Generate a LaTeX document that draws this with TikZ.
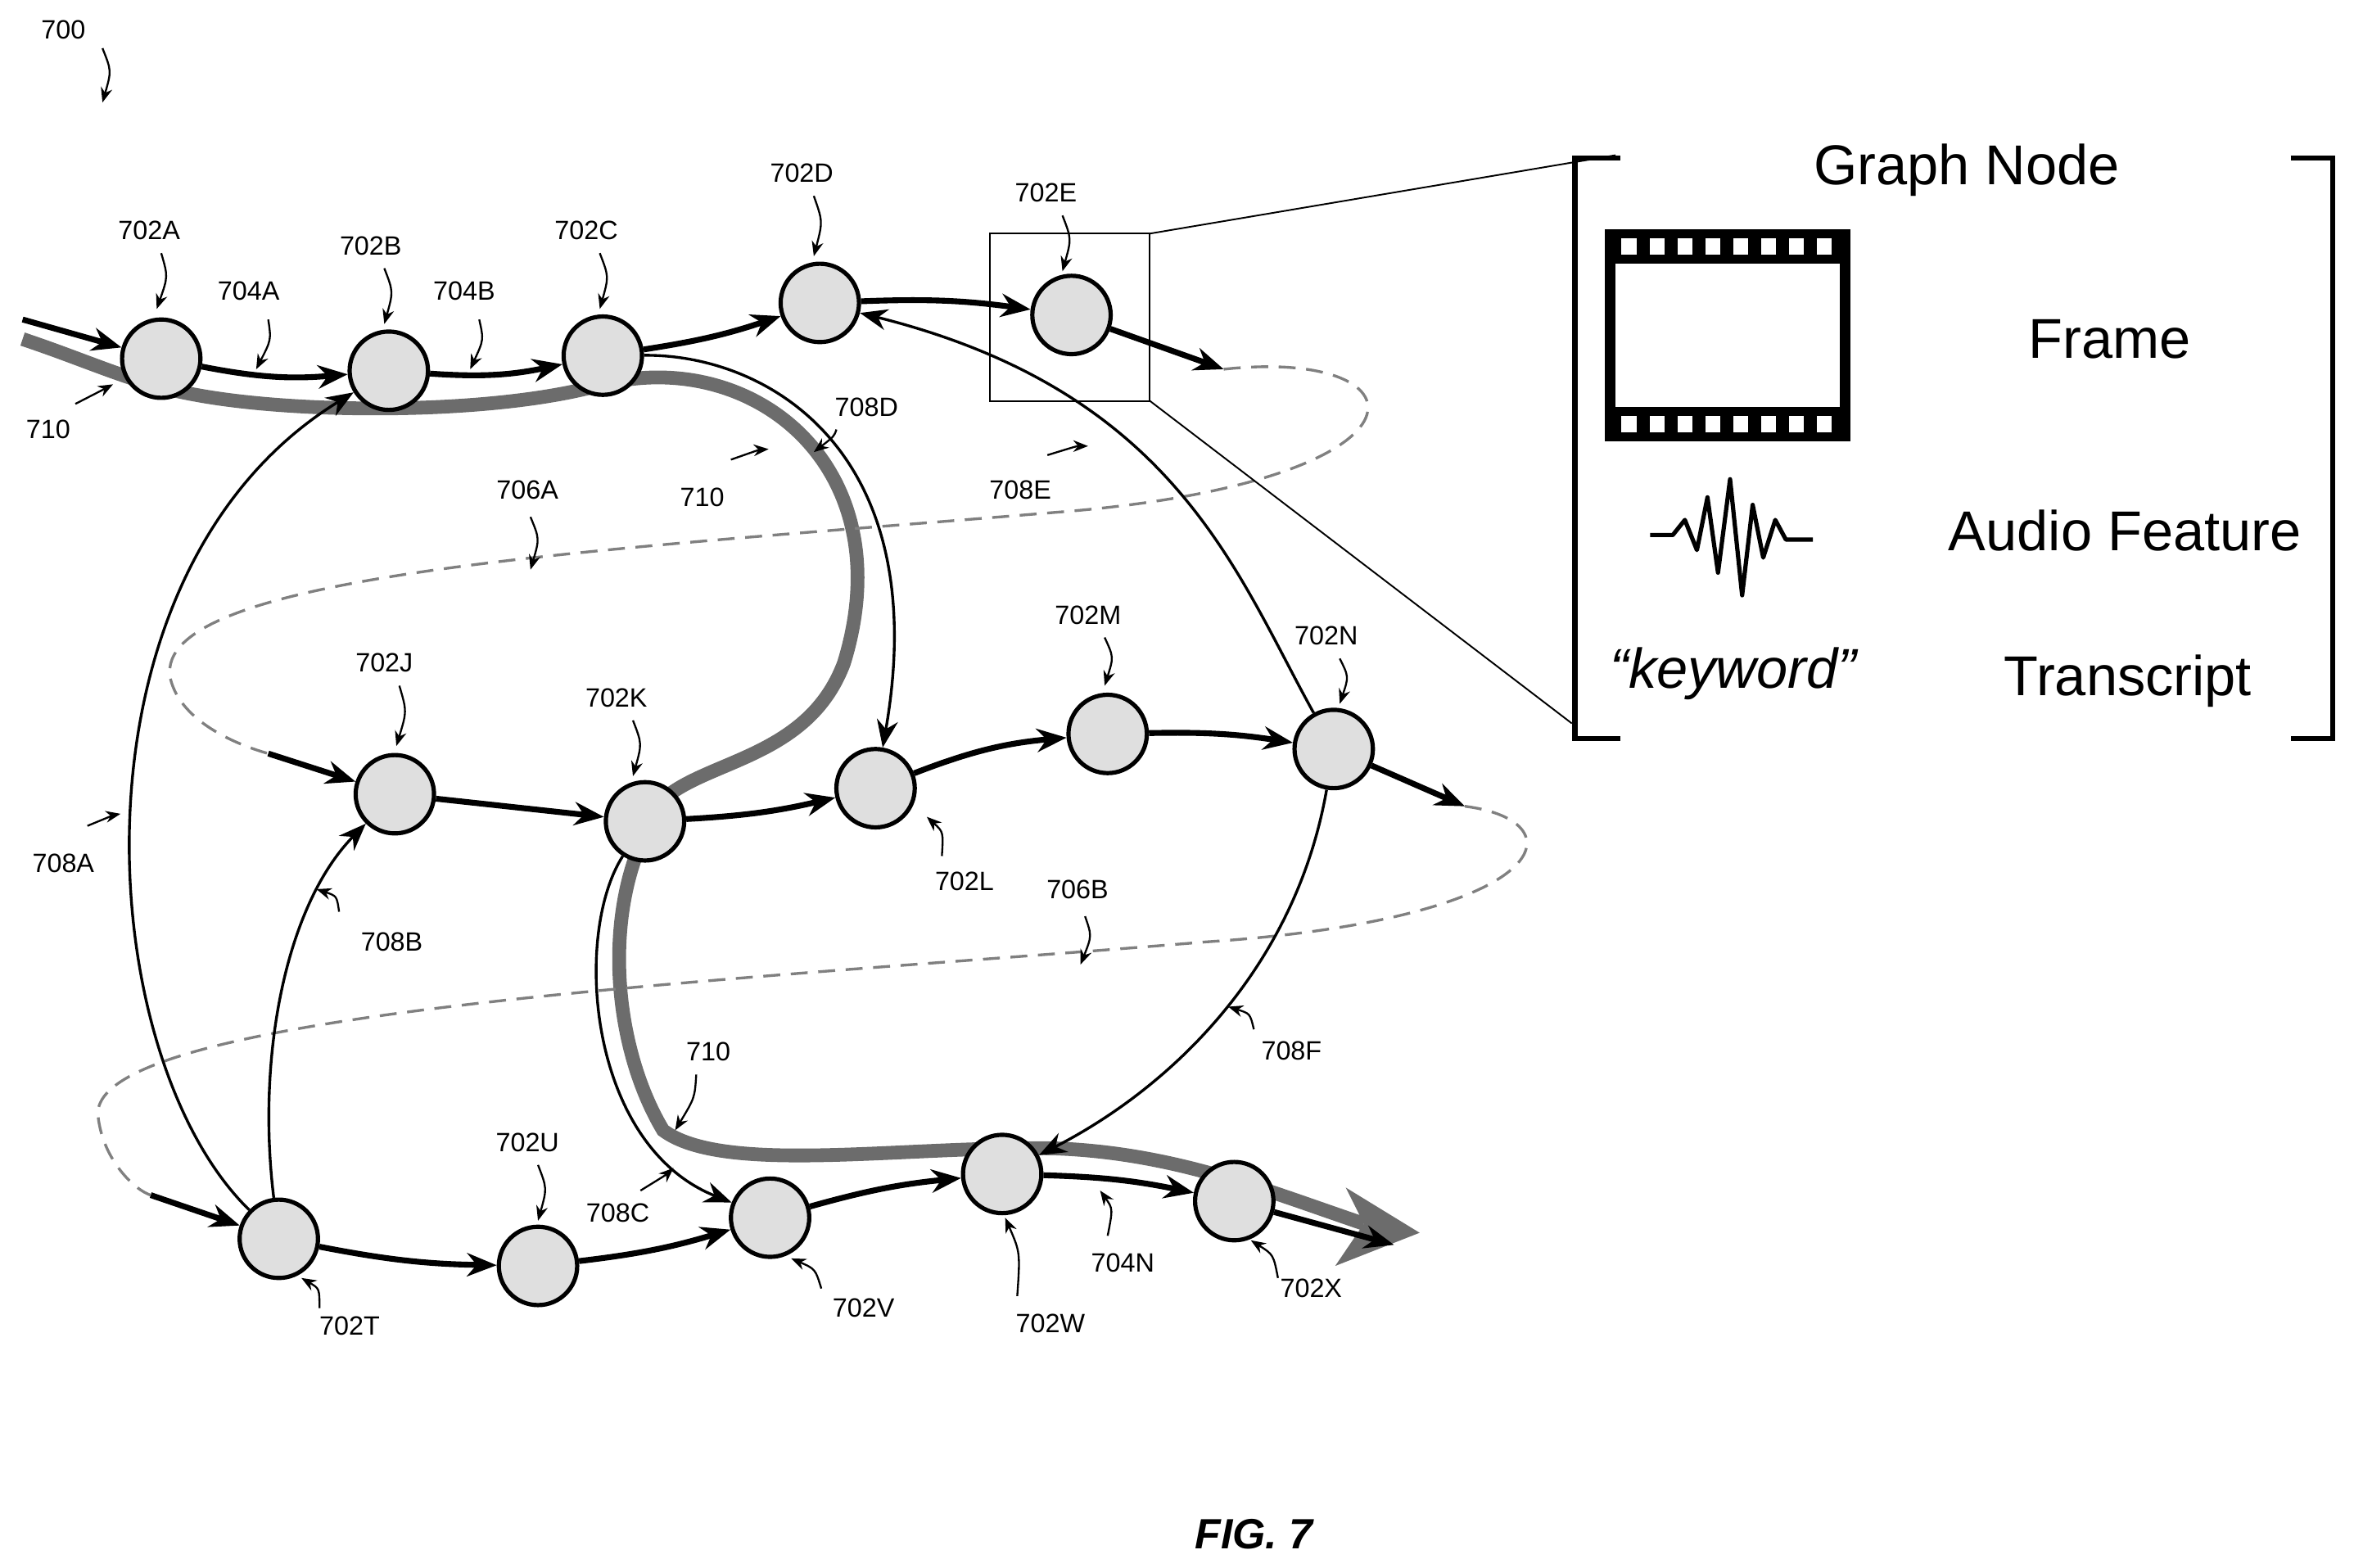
\documentclass[tikz,border=0pt]{standalone}
\usepackage{fontspec}
\setmainfont{Liberation Sans}
\usetikzlibrary{arrows.meta,calc}
\begin{document}
\begin{tikzpicture}[x=0.05cm,y=-0.05cm,
 gn/.style={circle,draw=black,line width=4pt,fill=gray!25,minimum size=52*0.05cm,inner sep=0},
 ed/.style={line width=5.5pt,-{Stealth[length=28pt,width=22pt]}},
 th/.style={line width=2.6pt,-{Stealth[length=26pt,width=20pt]}},
 dsh/.style={gray,line width=2.6pt,dash pattern=on 16pt off 10pt},
 pth/.style={line width=13pt,draw=gray!85!black},
 lb/.style={font=\fontsize{25}{28}\selectfont},
 la/.style={line width=1.8pt,-{Stealth[length=14pt,width=11pt]}},
 big/.style={font=\fontsize{53}{60}\selectfont}]
\useasboundingbox (0,0) rectangle (1568,1040);
% gray path 710
\draw[pth] (15,225) .. controls (60,240) and (90,255) .. (130,262) .. controls (200,275) and (330,275) .. (400,255)
 .. controls (500,230) and (600,310) .. (560,440) .. controls (530,520) and (430,500) .. (425,560)
 .. controls (400,620) and (410,700) .. (440,750) .. controls (480,780) and (600,760) .. (700,762)
 .. controls (780,765) and (840,790) .. (905,812);
\fill[gray!85!black] (942,818) -- (893,788) -- (905,812) -- (886,840) -- cycle;
% nodes
\foreach \n/\x/\y in {A/107/238,B/258/246,C/400/236,D/544/201,E/711/209,J/262/527,K/428/545,L/581/523,M/735/487,N/885/497,T/185/822,U/357/840,V/511/808,W/665/779,X/819/797}
 \node[gn] (\n) at (\x,\y) {};
\coordinate (s0) at (15,212); \coordinate (e0) at (812,245);
\coordinate (s1) at (178,500); \coordinate (e1) at (972,535);
\coordinate (s2) at (100,793); \coordinate (e2) at (925,826);
% thick edges
\draw[ed] (s0) -- (A);
\draw[ed] (A) to[bend right=8] (B);
\draw[ed] (B) to[bend right=8] (C);
\draw[ed] (C) to[bend right=5] (D);
\draw[ed] (D) to[bend left=5] (E);
\draw[ed] (E) -- (e0);
\draw[ed] (s1) -- (J);
\draw[ed] (J) -- (K);
\draw[ed] (K) to[bend right=5] (L);
\draw[ed] (L) to[bend left=8] (M);
\draw[ed] (M) to[bend left=5] (N);
\draw[ed] (N) -- (e1);
\draw[ed] (s2) -- (T);
\draw[ed] (T) to[bend right=5] (U);
\draw[ed] (U) to[bend right=5] (V);
\draw[ed] (V) to[bend left=5] (W);
\draw[ed] (W) to[bend left=5] (X);
\draw[ed] (X) -- (e2);
% dashed
\draw[dsh] (e0) .. controls (950,230) and (960,320) .. (700,340) .. controls (400,365) and (100,380) .. (113,450) .. controls (120,480) and (160,495) .. (178,500);
\draw[dsh] (e1) .. controls (1050,545) and (1030,610) .. (800,625) .. controls (500,650) and (60,670) .. (65,740) .. controls (68,770) and (90,790) .. (100,793);
% thin arrows
\draw[th] (T) .. controls (60,700) and (40,380) .. (B);
\draw[th] (T) .. controls (170,700) and (190,600) .. (J);
\draw[th] (K) .. controls (380,620) and (390,760) .. (V);
\draw[th] (C) .. controls (510,235) and (620,300) .. (L);
\draw[th] (N) .. controls (820,380) and (780,260) .. (D);
\draw[th] (N) .. controls (860,640) and (780,720) .. (W);
% zoom box
\draw[line width=1.5pt] (657,155) rectangle (763,266);
\draw[line width=1.5pt] (763,155) -- (1072,103);
\draw[line width=1.5pt] (763,266) -- (1043,480);
% brackets
\draw[line width=5pt] (1075,105) -- (1045,105) -- (1045,490) -- (1075,490);
\draw[line width=5pt] (1520,105) -- (1548,105) -- (1548,490) -- (1520,490);
\node[big] at (1305,113) {Graph Node};
\node[big] at (1400,225) {Frame};
\node[big] at (1410,352) {Audio Feature};
\node[big] at (1412,452) {Transcript};
\node[big,font=\fontsize{53}{60}\selectfont\itshape] at (1150,447) {“keyword”};
% film
\fill (1065,152) rectangle (1228,293);
\fill[white] (1072,175) rectangle (1221,270);
\foreach \i in {0,...,7} {
 \fill[white] (1076+\i*18.5,158) rectangle ++(10,11);
 \fill[white] (1076+\i*18.5,276) rectangle ++(10,11);}
% waveform
\draw[line width=4pt,line join=round] (1095,355) -- (1110,355) -- (1118,345) -- (1126,365) -- (1133,330) -- (1140,380) -- (1148,318) -- (1156,395) -- (1163,335) -- (1170,370) -- (1178,345) -- (1185,358) -- (1203,358);
% labels
\foreach \t/\tx/\ty/\ax/\ay/\bx/\by in {
 700/42/20/68/32/68/68,
 702A/99/153/107/168/104/205, 704A/165/193/178/212/170/245,
 702B/246/163/255/178/255/215, 704B/308/193/318/212/312/245,
 702C/389/153/398/168/398/205, 702D/532/115/540/130/540/170,
 702E/694/128/705/143/705/180, 710/32/285/50/268/75/255,
 708D/575/270/555/285/540/300, 710/466/330/485/305/510/298,
 708E/677/325/695/302/722/296, 706A/350/325/352/343/352/378,
 702J/255/440/265/455/263/495, 702K/409/463/420/478/420/515,
 702M/722/408/733/423/733/455, 702N/880/422/889/437/889/467,
 702L/640/585/625/568/615/542, 708A/42/573/58/548/80/540,
 708B/260/625/225/605/210/590, 706B/715/590/720/608/717/640,
 710/470/698/462/713/448/750, 708F/857/697/832/683/815/668,
 702U/350/758/357/773/357/810, 708C/410/805/425/790/447/775,
 702T/232/880/212/868/200/848, 702V/573/868/545/855/525/835,
 702W/697/878/675/860/667/808, 704N/745/838/735/820/730/790,
 702X/870/855/848/848/830/823}
 {\node[lb] at (\tx,\ty) {\t};
  \draw[la] (\ax,\ay) .. controls ($(\ax,\ay)!0.5!(\bx,\by)+(6,-3)$) .. (\bx,\by);}
\node[font=\fontsize{40}{44}\selectfont\bfseries\itshape] at (832,1018) {FIG. 7};
\end{tikzpicture}
\end{document}
